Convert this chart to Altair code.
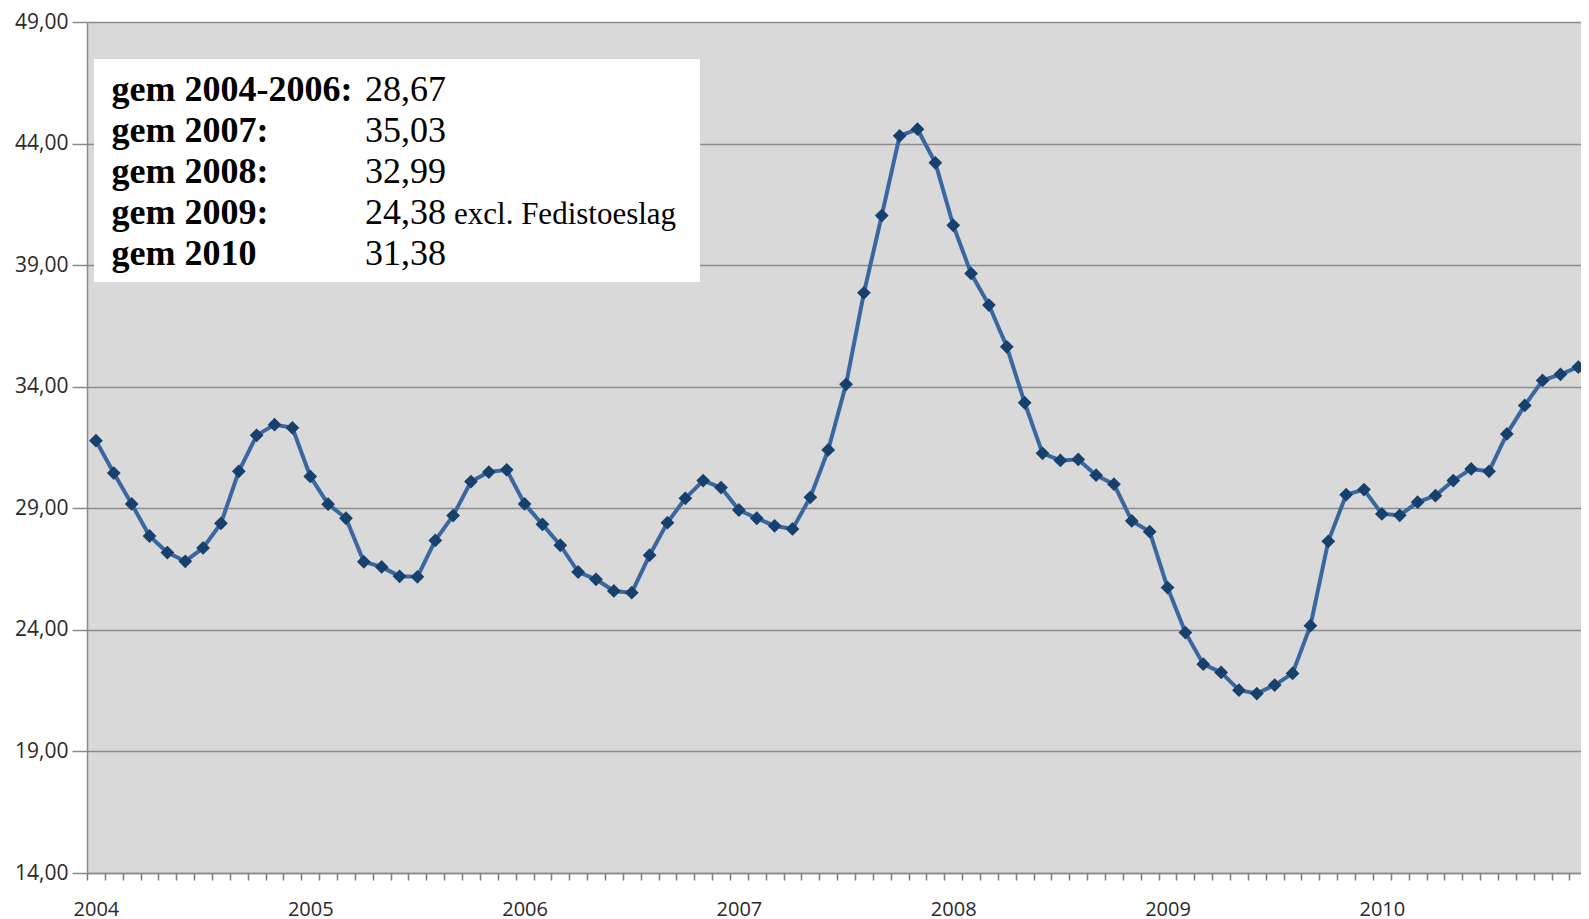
import altair as alt
import pandas as pd

# Monthly values, Jan 2004 .. Dec 2010
years = [2004, 2005, 2006, 2007, 2008, 2009, 2010]
prices = [
    31.78, 30.45, 29.18, 27.86, 27.18, 26.82, 27.37, 28.38, 30.52, 32.00, 32.44, 32.31,  # 2004
    30.31, 29.17, 28.59, 26.80, 26.59, 26.20, 26.18, 27.68, 28.70, 30.10, 30.49, 30.58,  # 2005
    29.18, 28.34, 27.48, 26.38, 26.08, 25.60, 25.53, 27.07, 28.41, 29.41, 30.14, 29.85,  # 2006
    28.93, 28.59, 28.28, 28.15, 29.45, 31.40, 34.10, 37.86, 41.04, 44.32, 44.59, 43.21,  # 2007
    40.64, 38.66, 37.36, 35.64, 33.34, 31.26, 30.97, 31.01, 30.36, 29.99, 28.48, 28.04,  # 2008
    25.74, 23.89, 22.59, 22.25, 21.52, 21.38, 21.73, 22.21, 24.17, 27.64, 29.56, 29.77,  # 2009
    28.77, 28.71, 29.25, 29.52, 30.14, 30.62, 30.52, 32.06, 33.23, 34.26, 34.51, 34.81,  # 2010
]
y_ticks = [14, 19, 24, 29, 34, 39, 44, 49]

ann_labels = ["gem 2004-2006:", "gem 2007:", "gem 2008:", "gem 2009:", "gem 2010"]
ann_values = ["28,67", "35,03", "32,99", "24,38", "31,38"]
ann_notes = ["", "", "", "excl. Fedistoeslag", ""]

n = len(prices)
df = pd.DataFrame({"idx": list(range(n)), "price": prices})
ann = pd.DataFrame({"row": list(range(len(ann_labels))), "label": ann_labels,
                    "value": ann_values, "note": ann_notes})

LEFT = 79
PLOT_W = 1573 - LEFT
PLOT_H = 851
xmax = 83.15
band = PLOT_W / (xmax + 0.5)

tick_vals = [k - 0.5 for k in range(n)]

xscale = alt.Scale(domain=[-0.5, xmax], nice=False, zero=False)
yscale = alt.Scale(domain=[14, 49], nice=False, zero=False)

x_enc = alt.X(
    "idx:Q", scale=xscale, title=None,
    axis=alt.Axis(
        values=tick_vals, tickCount=200, grid=False,
        labelExpr="((datum.value + 0.5) % 12 == 0) ? '' + (" + str(years[0]) + " + (datum.value + 0.5) / 12) : ''",
        labelOffset=round(band / 2, 2), labelAlign="center", labelOverlap=False, labelFlush=False, labelBound=False,
        tickSize=7, tickColor="#7a7a7a", tickWidth=1.5, tickRound=True,
        domainColor="#8a8a8a", domainWidth=1.5,
        labelPadding=19, labelFont="Open Sans", labelFontSize=20, labelColor="#2a2a2a",
    ),
)
y_enc = alt.Y(
    "price:Q", scale=yscale, title=None,
    axis=alt.Axis(
        values=y_ticks, grid=True, gridColor="#8c8c8c", gridWidth=1.5,
        labelExpr="replace(format(datum.value, '.2f'), '.', ',')",
        tickSize=15, tickColor="#8a8a8a", tickWidth=1.5,
        domainColor="#8a8a8a", domainWidth=1.5,
        labelPadding=4, labelFont="Open Sans", labelFontSize=21, labelColor="#2a2a2a",
    ),
)

base = alt.Chart(df)
line = base.mark_line(color="#3a67a0", strokeWidth=4, strokeJoin="round", clip=True).encode(x=x_enc, y=y_enc)
pts = base.mark_point(shape="diamond", filled=True, size=190, color="#17406d", opacity=1, clip=True).encode(
    x=alt.X("idx:Q", scale=xscale), y=alt.Y("price:Q", scale=yscale)
)

box = alt.Chart(ann).mark_rect(color="white", opacity=1).encode(
    x=alt.value(7), x2=alt.value(613), y=alt.value(37), y2=alt.value(260)
).transform_filter("datum.row == 0")

row_y = alt.Y("row:Q", scale=alt.Scale(domain=[0, 4], range=[78.8, 242.8]), axis=None)

t_labels = alt.Chart(ann).mark_text(
    font="Liberation Serif", fontSize=36, fontWeight="bold", align="left", baseline="alphabetic", color="black"
).encode(x=alt.value(24.5), y=row_y, text="label:N")
t_values = alt.Chart(ann).mark_text(
    font="Liberation Serif", fontSize=36, align="left", baseline="alphabetic", color="black"
).encode(x=alt.value(278), y=row_y, text="value:N")
t_notes = alt.Chart(ann).mark_text(
    font="Liberation Serif", fontSize=31, align="left", baseline="alphabetic", color="black"
).encode(x=alt.value(367), y=row_y, text="note:N")

chart = alt.layer(line, pts, box, t_labels, t_values, t_notes).resolve_scale(y="independent").properties(
    width=PLOT_W, height=PLOT_H,
    padding={"left": LEFT, "top": 14, "right": 0, "bottom": 46},
    autosize=alt.AutoSizeParams(type="none"),
    background="white",
).configure_view(fill="#d9d9d9", stroke=None)

chart.save("out.html", embed_options={"renderer": "svg", "actions": False})
